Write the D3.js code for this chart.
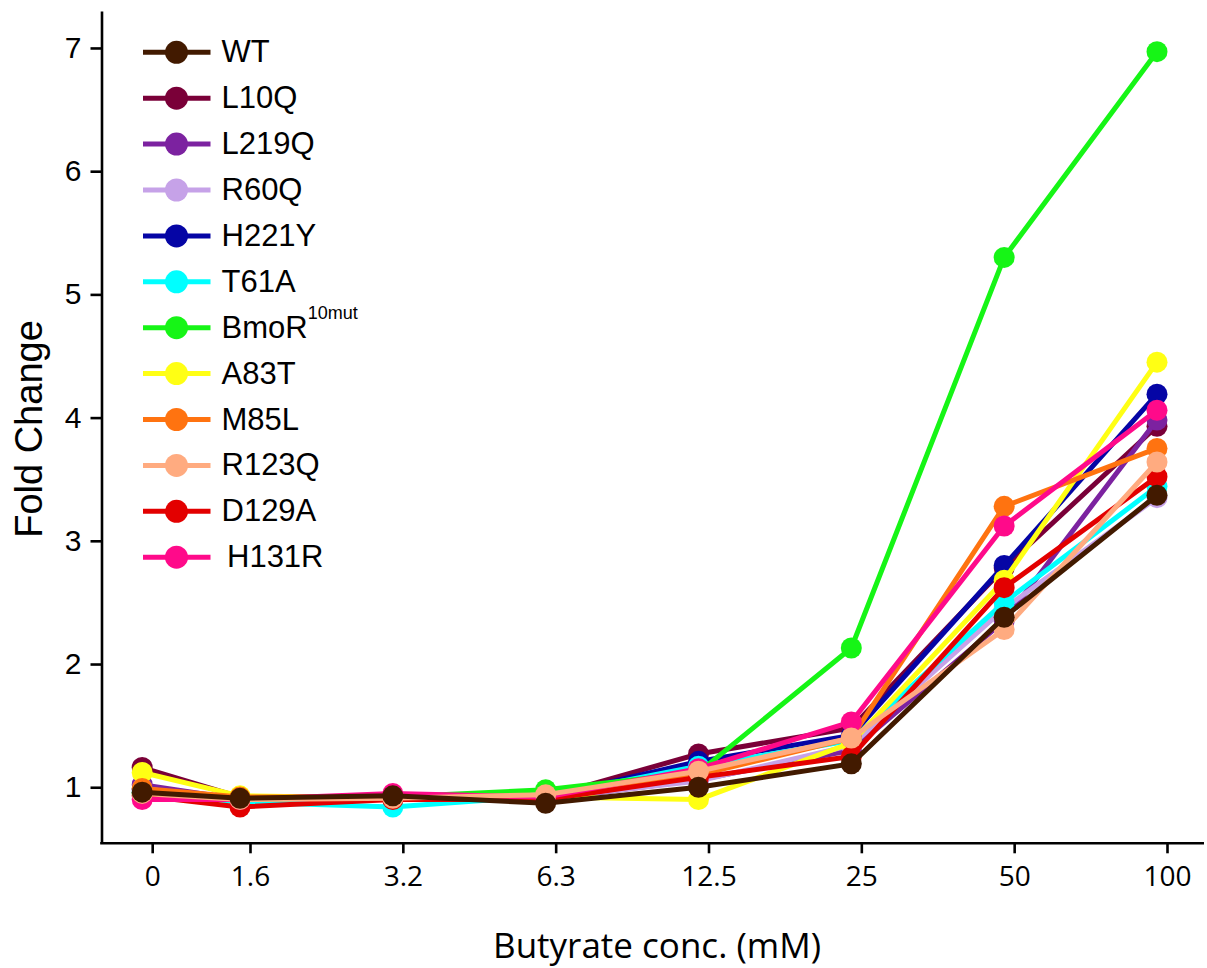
<!DOCTYPE html>
<html>
<head>
<meta charset="utf-8">
<script src="https://cdn.jsdelivr.net/npm/d3@7"></script>
<style>
  html, body { margin: 0; padding: 0; background: #fff; }
  svg { display: block; }
</style>
</head>
<body>
<svg id="chart" width="1207" height="968"></svg>
<script>
// ---------- data ----------
const concentrations = ["0", "1.6", "3.2", "6.3", "12.5", "25", "50", "100"];
const yTicks = [1, 2, 3, 4, 5, 6, 7];

const seriesNames = ["WT", "L10Q", "L219Q", "R60Q", "H221Y", "T61A", "BmoR", "A83T", "M85L", "R123Q", "D129A", "H131R"];

const WT    = [0.96, 0.91, 0.93, 0.87, 1.00, 1.19, 2.38, 3.37];
const L10Q  = [1.16, 0.92, 0.92, 0.92, 1.27, 1.48, 2.78, 3.93];
const L219Q = [1.02, 0.90, 0.91, 0.90, 1.06, 1.30, 2.35, 3.98];
const R60Q  = [0.99, 0.89, 0.90, 0.91, 1.05, 1.34, 2.45, 3.35];
const H221Y = [0.98, 0.90, 0.91, 0.92, 1.21, 1.42, 2.80, 4.19];
const T61A  = [0.96, 0.88, 0.84, 0.93, 1.17, 1.38, 2.50, 3.44];
const BmoR  = [0.95, 0.90, 0.92, 0.98, 1.12, 2.13, 5.30, 6.97];
const A83T  = [1.12, 0.93, 0.91, 0.92, 0.90, 1.36, 2.68, 4.45];
const M85L  = [0.99, 0.92, 0.92, 0.93, 1.10, 1.40, 3.28, 3.75];
const R123Q = [0.95, 0.90, 0.91, 0.94, 1.13, 1.40, 2.28, 3.64];
const D129A = [0.93, 0.84, 0.90, 0.90, 1.08, 1.25, 2.62, 3.52];
const H131R = [0.90, 0.90, 0.95, 0.92, 1.15, 1.53, 3.12, 4.06];

const seriesValues = { WT, L10Q, L219Q, R60Q, H221Y, T61A, BmoR, A83T, M85L, R123Q, D129A, H131R };

// ---------- styles ----------
const colors = {
  WT: "#421a00", L10Q: "#7a0038", L219Q: "#7c22a0", R60Q: "#c6a2e8",
  H221Y: "#0505a5", T61A: "#00ffff", BmoR: "#16f516", A83T: "#ffff14",
  M85L: "#ff7310", R123Q: "#ffab80", D129A: "#e30000", H131R: "#ff0a8a"
};
// drawing order (last on top)
const drawOrder = ["L10Q", "L219Q", "R60Q", "H221Y", "T61A", "BmoR", "A83T", "M85L", "D129A", "H131R", "R123Q", "WT"];

// ---------- layout ----------
const svg = d3.select("#chart");
const axisLeftX = 101.5, axisBottomY = 843.3, axisTopY = 11, axisRightX = 1204;
const zeroGap = 0.64;          // gap (in doubling steps) between 0 and 1.6
const tickShift = 10;          // ticks sit slightly right of the points in the original

const step = i => (i === 0 ? -zeroGap : i - 1);
const x = d3.scaleLinear().domain([0, 6]).range([240, 1157]);
const y = d3.scaleLinear().domain([0.545, 7.30]).range([axisBottomY, axisTopY]);

// ---------- axes ----------
const yAxis = d3.axisLeft(y).tickValues(yTicks).tickFormat(d3.format("d"))
  .tickSize(11).tickSizeOuter(0).tickPadding(9);
const gy = svg.append("g").attr("transform", `translate(${axisLeftX},0)`).call(yAxis);
gy.select(".domain").attr("stroke", "#000").attr("stroke-width", 2.6);
gy.selectAll(".tick line").attr("stroke", "#000").attr("stroke-width", 2.6);
gy.selectAll(".tick text").attr("font-family", "Liberation Sans, Arial, sans-serif")
  .attr("font-size", 30).attr("fill", "#000");

const xAxis = d3.axisBottom(x).tickValues(concentrations.map((c, i) => step(i)))
  .tickFormat((d, i) => concentrations[i]).tickSize(10).tickSizeOuter(0).tickPadding(13);
const gx = svg.append("g").attr("transform", `translate(${tickShift},${axisBottomY})`).call(xAxis);
gx.select(".domain").remove();
gx.selectAll(".tick line").attr("stroke", "#000").attr("stroke-width", 2.6);
gx.selectAll(".tick text").attr("font-family", "Open Sans, sans-serif")
  .attr("font-size", 28).attr("fill", "#000");

svg.append("line")
  .attr("x1", axisLeftX - 1.3).attr("x2", axisRightX)
  .attr("y1", axisBottomY).attr("y2", axisBottomY)
  .attr("stroke", "#000").attr("stroke-width", 2.6);

// axis titles
svg.append("text")
  .attr("transform", `translate(42,429) rotate(-90)`)
  .attr("text-anchor", "middle")
  .attr("font-family", "Liberation Sans, Arial, sans-serif")
  .attr("font-size", 38).attr("fill", "#000")
  .text("Fold Change");

svg.append("text")
  .attr("x", 657).attr("y", 958)
  .attr("text-anchor", "middle")
  .attr("font-family", "Open Sans, sans-serif")
  .attr("font-size", 35).attr("fill", "#000")
  .text("Butyrate conc. (mM)");

// ---------- series ----------
const line = d3.line().x((d, i) => x(step(i))).y(d => y(d));
const plot = svg.append("g");
drawOrder.forEach(name => {
  const vals = seriesValues[name];
  const g = plot.append("g");
  g.append("path").datum(vals)
    .attr("d", line).attr("fill", "none")
    .attr("stroke", colors[name]).attr("stroke-width", 5)
    .attr("stroke-linejoin", "round");
  g.selectAll("circle").data(vals).join("circle")
    .attr("cx", (d, i) => x(step(i))).attr("cy", d => y(d))
    .attr("r", 10.5).attr("fill", colors[name]);
});

// ---------- legend ----------
const legend = svg.append("g").attr("transform", "translate(143,52.3)");
const rowH = 45.9;
seriesNames.forEach((name, k) => {
  const g = legend.append("g").attr("transform", `translate(0,${k * rowH})`);
  g.append("line").attr("x1", 0).attr("x2", 67.5).attr("y1", 0).attr("y2", 0)
    .attr("stroke", colors[name]).attr("stroke-width", 5);
  g.append("circle").attr("cx", 33.5).attr("cy", 0).attr("r", 11.5).attr("fill", colors[name]);
  const t = g.append("text").attr("x", name === "H131R" ? 84 : 78.5).attr("y", 10)
    .attr("font-family", "Liberation Sans, Arial, sans-serif")
    .attr("font-size", 31).attr("fill", "#000");
  if (name === "BmoR") {
    t.append("tspan").text("BmoR");
    t.append("tspan").attr("font-size", 18).attr("dy", -19).text("10mut");
  } else {
    t.text(name);
  }
});
</script>
</body>
</html>
